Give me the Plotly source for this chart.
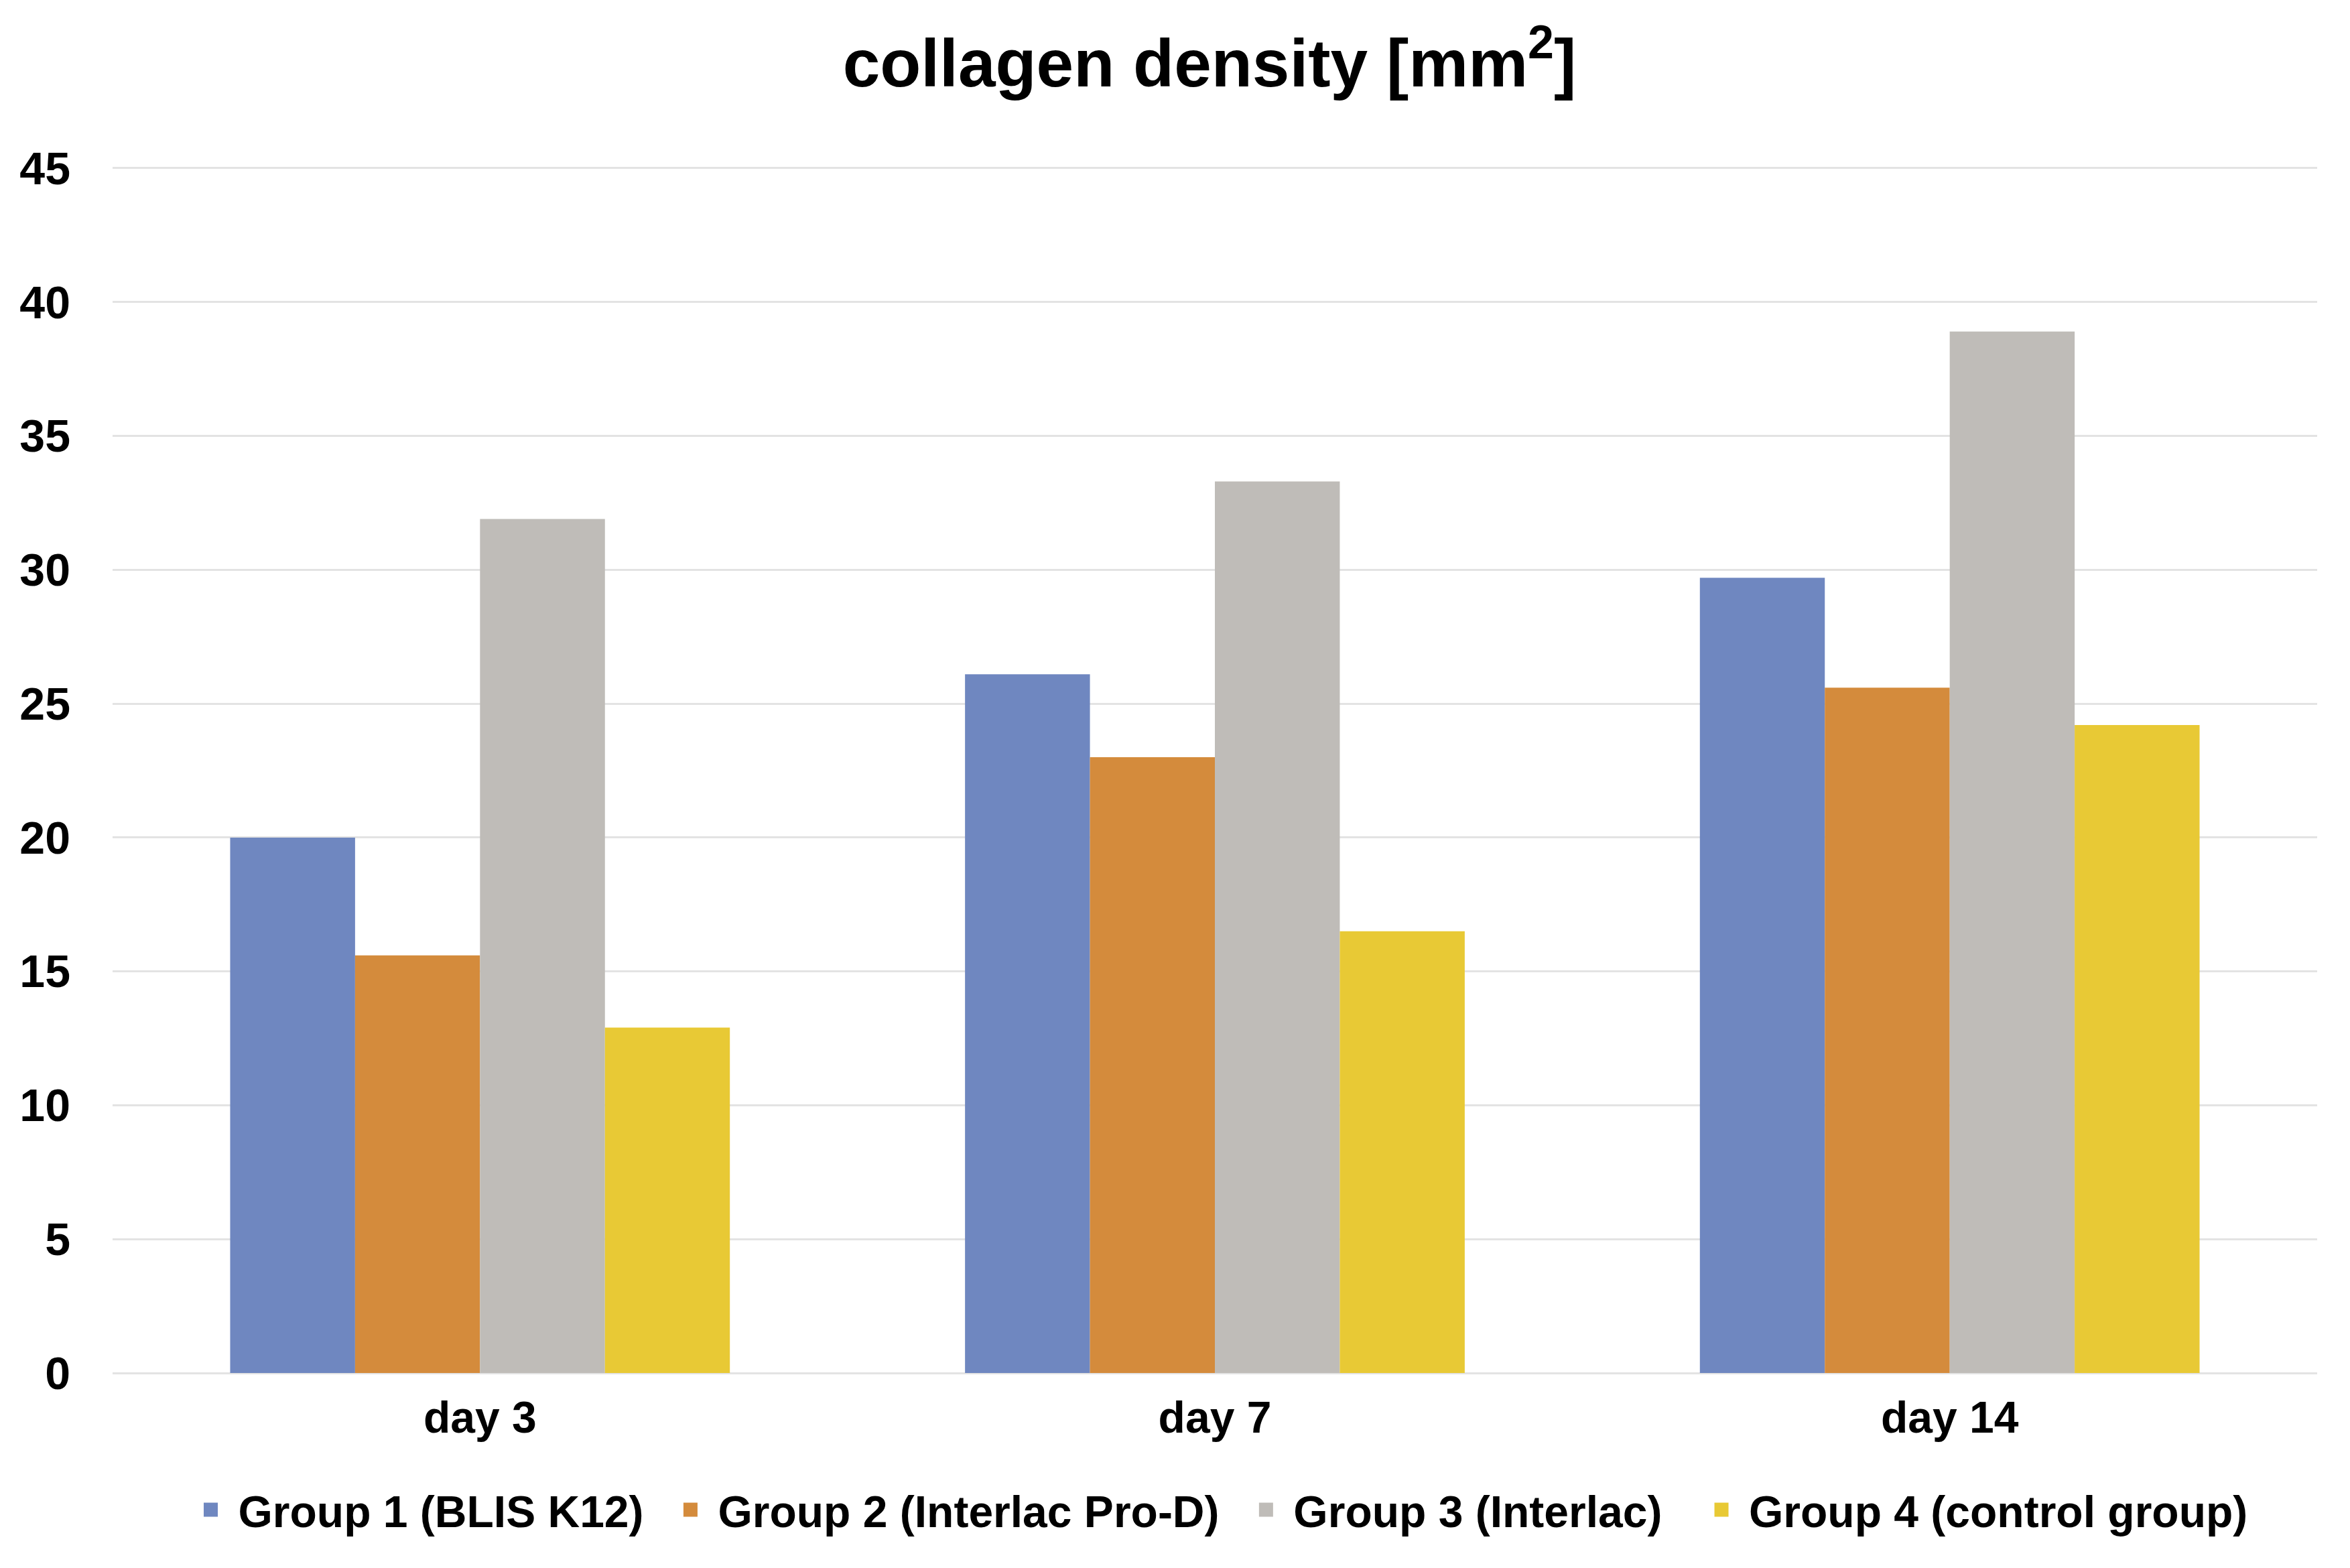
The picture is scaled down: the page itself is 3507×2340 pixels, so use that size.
import plotly.graph_objects as go

days = ["day 3", "day 7", "day 14"]
groups = ["Group 1 (BLIS K12)", "Group 2 (Interlac Pro-D)", "Group 3 (Interlac)", "Group 4 (control group)"]
g1 = [20.0, 26.1, 29.7]
g2 = [15.6, 23.0, 25.6]
g3 = [31.9, 33.3, 38.9]
g4 = [12.9, 16.5, 24.2]
values = [g1, g2, g3, g4]
colors = ["#6F87C0", "#D48B3C", "#BFBCB8", "#E8C935"]
yticks = [0, 5, 10, 15, 20, 25, 30, 35, 40, 45]
legend_pad = ["\u00a0\u200a", "\u00a0\u200a", "\u00a0\u2009\u200a\u200a", "\u00a0"]

FONT = "Liberation Sans, Arial, sans-serif"

fig = go.Figure()
for name, vals, col, pad in zip(groups, values, colors, legend_pad):
    fig.add_trace(go.Bar(x=days, y=vals, name=name, marker=dict(color=col, line=dict(width=0)),
                         legendgroup=name, showlegend=False))
    fig.add_trace(go.Scatter(x=[None], y=[None], mode="markers", name="<b>" + name + "</b>" + pad,
                             legendgroup=name,
                             marker=dict(symbol="square", size=30, color=col, line=dict(color=col, width=10)),
                             showlegend=True))

W, H = 3507, 2340
plot_left, plot_right = 160, 3450
ml, mr = plot_left, W - plot_right
y_top_px, y_bot_px = 243, 2041   # pixel rows of 45 and 0
r_lo, r_hi = -1.2, 46.2
ppu = (y_bot_px - y_top_px) / 45.0
mt = y_top_px - (r_hi - 45) * ppu
mb = H - (y_bot_px + (0 - r_lo) * ppu)
plot_h = H - mt - mb
plot_w = W - ml - mr
legend_center_px = 2245
legend_x_px = 1818

fig.update_layout(
    width=W, height=H,
    margin=dict(l=ml, r=mr, t=mt, b=mb),
    paper_bgcolor="white", plot_bgcolor="white",
    font=dict(family=FONT, color="black"),
    title=dict(text="<b>collagen density [mm<sup>2</sup>]</b>", font=dict(size=100, family=FONT, color="black"),
               x=1797 / W, xanchor="center", y=1 - 86 / H, yanchor="middle"),
    barmode="group", bargap=0.32, bargroupgap=0,
    xaxis=dict(tickfont=dict(size=66, family=FONT, color="black"),
               showgrid=False, showline=False,
               ticks="", ticklabelstandoff=-26),
    yaxis=dict(range=[r_lo, r_hi], tickvals=yticks, ticktext=[f"<b>{v}</b>" for v in yticks],
               tickfont=dict(size=68, family=FONT, color="black"),
               showgrid=True, gridcolor="#E3E3E3", gridwidth=3,
               zeroline=False,
               showline=False, ticks="", ticklabelstandoff=62),
    legend=dict(orientation="h", x=(legend_x_px - ml) / plot_w, xanchor="center",
                y=((H - mb) - legend_center_px) / plot_h, yanchor="middle",
                font=dict(size=66, family=FONT, color="black"), itemsizing="trace", itemwidth=72,
                tracegroupgap=0, bgcolor="rgba(0,0,0,0)"),
)
fig.update_xaxes(ticktext=[f"<b>{d}</b>" for d in days], tickvals=days)

fig.write_html("out.html")
